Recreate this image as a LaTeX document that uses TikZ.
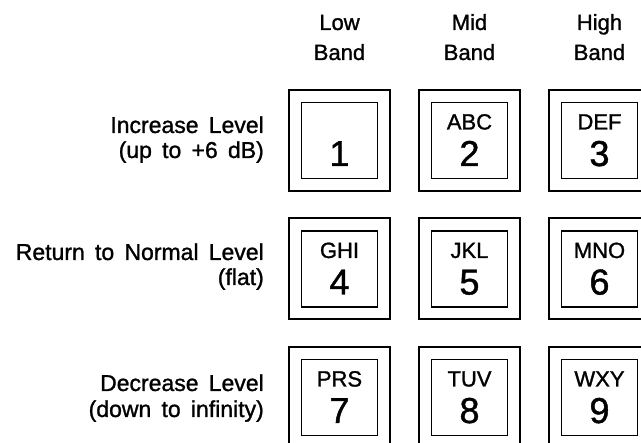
\documentclass[tikz,border=0pt]{standalone}
\usepackage{fontspec}
\setmainfont[WordSpace=1.6,FakeBold=1.2]{Liberation Sans}
\begin{document}
\begin{tikzpicture}[x=1pt,y=-1pt,
  outerkey/.style={draw, line width=2pt, minimum width=101pt, minimum height=101pt, inner sep=0pt},
  innerkey/.style={draw, line width=1.8pt, minimum width=76pt, minimum height=76pt, inner sep=0pt},
  keyletters/.style={anchor=base, font=\fontsize{22}{24}\selectfont, inner sep=0pt},
  keydigit/.style={anchor=base, font=\fontsize{36}{38}\selectfont, inner sep=0pt},
  bandhead/.style={anchor=base, font=\fontsize{22}{24}\selectfont, inner sep=0pt},
  rowlabel/.style={anchor=base east, font=\fontsize{23}{24}\selectfont, inner sep=0pt}]
  \useasboundingbox (0,0) rectangle (641,443);
  \clip (0,0) rectangle (641,443);

  % band headings above the three columns
  \node[bandhead] (lowA)  at (339.5,30) {Low};
  \node[bandhead] (lowB)  at (339.5,60) {Band};
  \node[bandhead] (midA)  at (469.5,30) {Mid};
  \node[bandhead] (midB)  at (469.5,60) {Band};
  \node[bandhead] (highA) at (599.5,30) {High};
  \node[bandhead] (highB) at (599.5,60) {Band};

  % row descriptions
  \node[rowlabel] (incA) at (264,133) {Increase Level};
  \node[rowlabel] (incB) at (264,158) {(up to +6 dB)};
  \node[rowlabel] (retA) at (264,260) {Return to Normal Level};
  \node[rowlabel] (retB) at (264,285) {(flat)};
  \node[rowlabel] (decA) at (264,391) {Decrease Level};
  \node[rowlabel] (decB) at (264,417) {(down to infinity)};

  % keypad: column/row/letters/digit
  \foreach \c/\r/\lbl/\dig in {1/1//1, 2/1/ABC/2, 3/1/DEF/3,
                               1/2/GHI/4, 2/2/JKL/5, 3/2/MNO/6,
                               1/3/PRS/7, 2/3/TUV/8, 3/3/WXY/9}{
    \pgfmathsetmacro{\cx}{339.5+130*(\c-1)}
    \pgfmathsetmacro{\cy}{140.5+128.5*(\r-1)}
    \pgfmathsetmacro{\ly}{\cy-11}
    \pgfmathsetmacro{\dy}{\cy+25.5}
    \node[outerkey] (o\c\r) at (\cx,\cy) {};
    \node[innerkey] (i\c\r) at (\cx,\cy) {};
    \node[keyletters] (l\c\r) at (\cx,\ly) {\lbl};
    \node[keydigit] (d\c\r) at (\cx,\dy) {\dig};
  }
\end{tikzpicture}
\end{document}
